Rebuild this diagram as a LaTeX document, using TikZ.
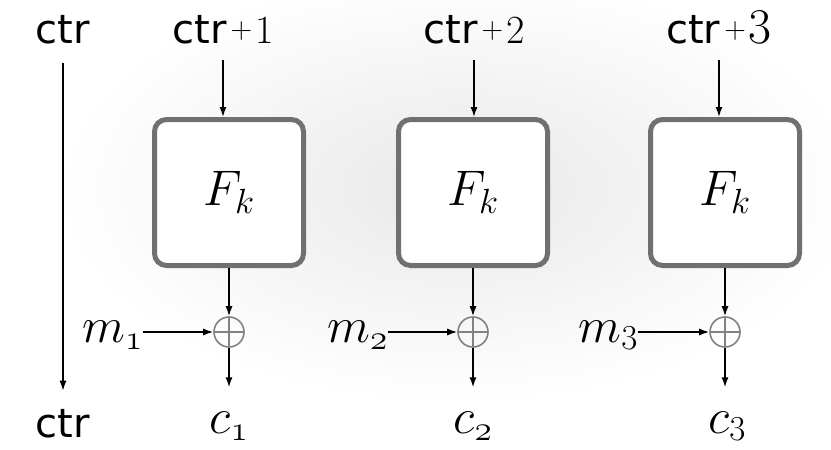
\RequirePackage{fix-cm}
\documentclass[tikz,border=0pt]{standalone}
\usepackage{fontspec}
\newfontfamily\ctrfont{DejaVu Sans}
\usetikzlibrary{arrows.meta}
\definecolor{boxgray}{RGB}{112,112,112}
\definecolor{xorgray}{RGB}{130,130,130}
\newcommand{\bigctr}{\fontsize{40}{48}\selectfont\ctrfont}
\newcommand{\mathbig}{\fontsize{50}{60}\selectfont}
\newcommand{\plusstep}[2]{\kern4pt\raisebox{5pt}{\fontsize{30}{34}\selectfont$+$}\kern3pt{\fontsize{#2}{48}\selectfont$#1$}}
\tikzset{
  fkbox/.style={draw=boxgray, line width=5pt, rounded corners=12pt, fill=white,
    minimum width=149pt, minimum height=146pt, inner sep=0pt, font=\mathbig},
  xorop/.style={circle, draw=xorgray, line width=1.6pt, minimum size=30pt, inner sep=0pt,
    path picture={\draw[xorgray, line width=1.6pt]
      (path picture bounding box.north) -- (path picture bounding box.south)
      (path picture bounding box.west) -- (path picture bounding box.east);}},
  arr/.style={-{Latex[length=10pt,width=7pt]}, line width=1.4pt},
  lbl/.style={inner sep=0pt, anchor=base},
  mlbl/.style={inner sep=0pt, anchor=base east, font=\mathbig},
  clbl/.style={inner sep=0pt, anchor=base, font=\mathbig},
}
\begin{document}
\begin{tikzpicture}[x=1pt,y=-1pt]
\useasboundingbox (0,0) rectangle (831,450);
\begin{scope}
  \clip (0,0) rectangle (831,450);
  \shade[inner color=black!9, outer color=white] (458,188) ellipse [x radius=400pt, y radius=215pt];
\end{scope}

% left counter
\node[lbl] (c0) at (63,43) {\bigctr ctr};
\node[lbl] (cb) at (63,437) {\bigctr ctr};
\draw[arr] ([yshift=-20pt]c0.base) -- ([yshift=18pt]cb.north);

% top labels
\node[lbl] (t1) at (223,43) {{\bigctr ctr}\plusstep{1}{40}};
\node[lbl] (t2) at (474,43) {{\bigctr ctr}\plusstep{2}{40}};
\node[lbl] (t3) at (719,43) {{\bigctr ctr}\plusstep{3}{50}};

% boxes
\node[fkbox] (F1) at (229,192.5) {$F_k$};
\node[fkbox] (F2) at (473,192.5) {$F_k$};
\node[fkbox] (F3) at (725,192.5) {$F_k$};

% xor
\node[xorop] (X1) at (229,332) {};
\node[xorop] (X2) at (473,332) {};
\node[xorop] (X3) at (725,332) {};

% messages
\node[mlbl] (m1) at (143,342) {$m_{\mathnormal{1}}$};
\node[mlbl] (m2) at (388,342) {$m_{\mathnormal{2}}$};
\node[mlbl] (m3) at (638,342) {$m_3$};

% ciphertexts
\node[clbl] (cc1) at (229,433) {$c_{\mathnormal{1}}$};
\node[clbl] (cc2) at (473,433) {$c_{\mathnormal{2}}$};
\node[clbl] (cc3) at (727,433) {$c_3$};

% connectors
\foreach \i in {1,2,3}{
  \coordinate (e\i) at ([yshift=24pt]cc\i.north);
  \draw[arr] ([yshift=-17pt]t\i.base) -- (t\i.base |- F\i.north);
  \draw[arr] (F\i.south -| X\i) -- (X\i.north);
  \draw[arr] (m\i.east |- X\i) -- (X\i.west);
  \draw[arr] (X\i.south) -- (X\i.south |- e\i);
}
\end{tikzpicture}
\end{document}
